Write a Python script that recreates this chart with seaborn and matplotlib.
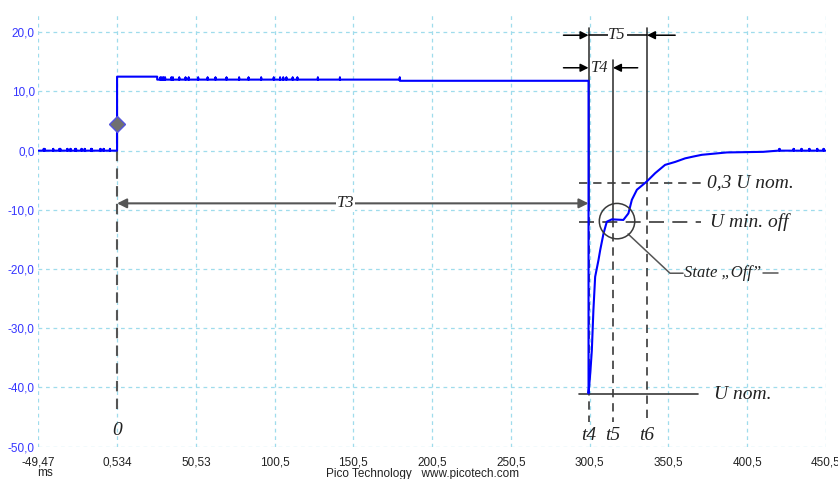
import numpy as np
import pandas as pd
import matplotlib
matplotlib.use("Agg")
import matplotlib.pyplot as plt
import seaborn as sns
from matplotlib.patches import Ellipse

# ---------------- data ----------------
x_tick_pos = [-49.466, 0.534, 50.534, 100.534, 150.534, 200.534, 250.534,
              300.534, 350.534, 400.534, 450.534]
x_tick_lab = ["-49,47", "0,534", "50,53", "100,5", "150,5", "200,5", "250,5",
              "300,5", "350,5", "400,5", "450,5"]
y_tick_pos = [20, 10, 0, -10, -20, -30, -40, -50]
y_tick_lab = ["20,0", "10,0", "0,0", "-10,0", "-20,0", "-30,0", "-40,0", "-50,0"]

pre_spike_t = [-46, -45.5, -40, -36, -35.5, -31, -29, -26, -25.5, -22, -20,
               -16, -15.5, -10, -8, -4]
high_spike_t = [28, 29, 30, 31, 35, 36, 40, 44, 46, 52, 58, 63, 70, 78, 84, 92,
                100, 104, 106, 108, 112, 115, 128, 142, 180]
rec_t = [299.8, 300.9, 301.9, 302.9, 304.0, 306.1, 307.2, 309.3, 311.4, 314.6,
         321.9, 325.1, 327.3, 330.5, 336.8, 342.1, 348.4, 354.8, 361.1, 366.2,
         371.7, 387.6, 410.6, 420.0]
rec_v = [-41.0, -37.6, -33.7, -26.9, -21.3, -18.5, -16.8, -14.0, -12.0, -11.6,
         -11.7, -10.6, -8.3, -6.6, -5.2, -3.8, -2.4, -1.9, -1.3, -1.0,
         -0.7, -0.3, -0.2, 0.0]
tail_spike_t = [421, 430, 435, 440, 445, 449]

# build the trace
t, v = [-49.47], [0.0]
for s in pre_spike_t:
    t += [s, s, s]; v += [0.0, 0.3, 0.0]
t += [0.534, 0.534, 26, 26]; v += [0.0, 12.5, 12.5, 12.0]
for s in high_spike_t:
    t += [s, s, s]; v += [12.0, 12.35, 12.0]
t += [180, 180, 299.8]; v += [12.0, 11.8, 11.8]
t += rec_t; v += rec_v
for s in tail_spike_t:
    t += [s, s, s]; v += [0.0, 0.3, 0.0]
t += [450.5]; v += [0.0]
df = pd.DataFrame({"t": t, "v": v})

# ---------------- figure ----------------
sns.set_theme(style="white")
plt.rcParams["font.family"] = ["Liberation Sans", "DejaVu Sans"]

fig = plt.figure(figsize=(8.38, 4.79), dpi=100)
ax = fig.add_axes([38.3 / 838, (479 - 446.7) / 479, (826 - 38.3) / 838, (446.7 - 13.3) / 479])
ax.set_xlim(-49.466, 450.534)
ax.set_ylim(-50, 23.2)

for sp in ax.spines.values():
    sp.set_visible(False)
ax.set_xticks(x_tick_pos)
ax.set_xticklabels(x_tick_lab, color="#222222", fontsize=8.5)
ax.set_yticks(y_tick_pos)
ax.set_yticklabels(y_tick_lab, color="#3535ff", fontsize=8.5)
ax.tick_params(axis="both", length=0)
ax.tick_params(axis="x", pad=7)
ax.tick_params(axis="y", pad=2.5)
ax.grid(True, color="#9fdcec", linestyle=(0, (3, 3)), linewidth=0.9)

sns.lineplot(data=df, x="t", y="v", sort=False, estimator=None,
             color="#0000ff", linewidth=1.5, ax=ax, zorder=4)
ax.set_xlabel(""); ax.set_ylabel("")

dk = "#3a3a3a"
ser = dict(family=["Liberation Serif", "DejaVu Serif"], style="italic", color="#222222")
dash = (0, (5, 3.5))

# marker at trigger
ax.plot([0.534], [4.5], marker="D", markersize=8.5, markerfacecolor="#707070",
        markeredgecolor="#5555dd", markeredgewidth=1, zorder=5)
ax.plot([0.534, 0.534], [3.0, -44.0], color="#555555", lw=1.5, ls=dash, zorder=3)
ax.text(0.534, -47.2, "0", fontsize=14, ha="center", va="center", **ser)

# T3 dimension
ax.annotate("", xy=(299.8, -8.9), xytext=(0.534, -8.9),
            arrowprops=dict(arrowstyle="<|-|>", color="#555555", lw=1.5,
                            mutation_scale=14, shrinkA=0, shrinkB=0), zorder=3)
ax.text(145.4, -8.9, "T3", fontsize=12, ha="center", va="center",
        bbox=dict(facecolor="white", edgecolor="none", pad=0.5), zorder=4, **ser)

# vertical lines t4, t5, t6
t4x, t5x, t6x = 299.8, 315.3, 336.9
ax.plot([t4x, t4x], [20.7, -8.9], color=dk, lw=1.2, zorder=3)
ax.plot([t4x, t4x], [-8.9, -45.8], color=dk, lw=1.2, ls=dash, zorder=3)
ax.plot([t5x, t5x], [15.3, -11.5], color=dk, lw=1.2, zorder=3)
ax.plot([t5x, t5x], [-11.5, -45.8], color=dk, lw=1.2, ls=dash, zorder=3)
ax.plot([t6x, t6x], [20.7, -5.4], color=dk, lw=1.2, zorder=3)
ax.plot([t6x, t6x], [-5.4, -45.8], color=dk, lw=1.2, ls=dash, zorder=3)
for xx, lab in [(t4x, "t4"), (t5x, "t5"), (t6x, "t6")]:
    ax.text(xx, -48.1, lab, fontsize=14, ha="center", va="center", **ser)

# T5 dimension
ap = dict(arrowstyle="-|>", color="black", lw=1.1, mutation_scale=12, shrinkA=0, shrinkB=0)
ax.annotate("", xy=(t4x, 19.5), xytext=(283.9, 19.5), arrowprops=ap, zorder=3)
ax.annotate("", xy=(t6x, 19.5), xytext=(354.8, 19.5), arrowprops=ap, zorder=3)
ax.plot([t4x, t6x], [19.5, 19.5], color="black", lw=1.1, zorder=3)
ax.text(317.9, 19.5, "T5", fontsize=12, ha="center", va="center",
        bbox=dict(facecolor="white", edgecolor="none", pad=0.5), zorder=4, **ser)

# T4 dimension
ax.annotate("", xy=(t4x, 14.0), xytext=(283.9, 14.0), arrowprops=ap, zorder=3)
ax.annotate("", xy=(t5x, 14.0), xytext=(331.0, 14.0), arrowprops=ap, zorder=3)
ax.text(306.8, 14.0, "T4", fontsize=12, ha="center", va="center",
        bbox=dict(facecolor="white", edgecolor="none", pad=0.3), zorder=4, **ser)

# horizontal reference lines
ax.plot([294.0, 370.9], [-5.4, -5.4], color=dk, lw=1.2, ls=dash, zorder=3)
ax.text(374.7, -5.4, "0,3 U nom.", fontsize=14, ha="left", va="center", **ser)
ax.plot([294.0, 370.9], [-12.1, -12.1], color=dk, lw=1.2, ls=(0, (9, 5)), zorder=3)
ax.text(376.6, -12.1, "U min. off", fontsize=14, ha="left", va="center", **ser)
ax.plot([294.0, 369.6], [-41.1, -41.1], color=dk, lw=1.2, zorder=3)
ax.text(379.7, -41.1, "U nom.", fontsize=14, ha="left", va="center", **ser)

# circle and leader
ax.add_patch(Ellipse((317.9, -11.9), width=22.5, height=5.98, fill=False,
                     edgecolor=dk, lw=1.1, zorder=5))
ax.plot([324.9, 351.5, 359.8], [-14.07, -20.7, -20.7], color="#555555", lw=1.1, zorder=3)
ax.text(360.3, -20.7, "State \u201eOff\u201d", fontsize=12, ha="left", va="center", **ser)
ax.plot([410.7, 420.2], [-20.7, -20.7], color="#555555", lw=1.1, zorder=3)

# footer texts
fig.text(45.5 / 838, 1 - 473.5 / 479, "ms", fontsize=8.5, color="#222222", ha="center", va="center")
fig.text(423 / 838, 1 - 473.5 / 479, "Pico Technology   www.picotech.com", fontsize=8.5,
         color="#222222", ha="center", va="center")

fig.savefig("out.png", dpi=100)
